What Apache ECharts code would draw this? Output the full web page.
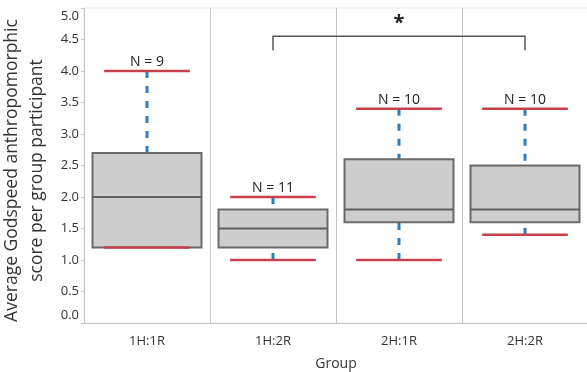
<!DOCTYPE html>
<html><head><meta charset="utf-8">
<script src="https://cdn.jsdelivr.net/npm/echarts@6/dist/echarts.min.js"></script>
<style>html,body{margin:0;padding:0;background:#fff}#c{width:587px;height:372px}</style>
</head><body><div id="c"></div>
<script>
const categories = ['1H:1R', '1H:2R', '2H:1R', '2H:2R'];
const whiskerLow = [1.2, 1.0, 1.0, 1.4];
const q1 = [1.2, 1.2, 1.6, 1.6];
const median = [2.0, 1.5, 1.8, 1.8];
const q3 = [2.7, 1.8, 2.6, 2.5];
const whiskerHigh = [4.0, 2.0, 3.4, 3.4];
const nCounts = [9, 11, 10, 10];
const yMin = 0, yMax = 5, yInterval = 0.5;
const sigFrom = '1H:2R', sigTo = '2H:2R', sigText = '*';
const sigLevel = 4.55, sigDrop = 4.33;

const FONT = 'Open Sans';
const boxData = categories.map((c, i) => [i, whiskerLow[i], q1[i], median[i], q3[i], whiskerHigh[i], nCounts[i]]);

function renderBox(params, api) {
  const x = api.value(0);
  const band = api.size([1, 0])[0];
  const bw = band * 0.865, cw = band * 0.68;
  const cx = api.coord([x, 0])[0];
  const y = k => api.coord([x, api.value(k)])[1];
  const yLo = y(1), yQ1 = y(2), yMed = y(3), yQ3 = y(4), yHi = y(5);
  const dash = { stroke: '#2a7fc1', lineWidth: 3, lineDash: [7, 8] };
  const red = { stroke: '#c8404c', lineWidth: 2.5 };
  const ch = [];
  if (yHi < yQ3) ch.push({ type: 'line', shape: { x1: cx, y1: yHi, x2: cx, y2: yQ3 }, style: dash });
  if (yLo > yQ1) ch.push({ type: 'line', shape: { x1: cx, y1: yLo, x2: cx, y2: yQ1 }, style: dash });
  ch.push({ type: 'rect', shape: { x: cx - bw / 2, y: yQ3, width: bw, height: yQ1 - yQ3 }, style: { fill: '#cdcdcd', stroke: '#6a6a6a', lineWidth: 2 } });
  ch.push({ type: 'line', shape: { x1: cx - bw / 2, y1: yMed, x2: cx + bw / 2, y2: yMed }, style: { stroke: '#606060', lineWidth: 2 } });
  ch.push({ type: 'line', shape: { x1: cx - cw / 2, y1: yHi, x2: cx + cw / 2, y2: yHi }, style: red });
  ch.push({ type: 'line', shape: { x1: cx - cw / 2, y1: yLo, x2: cx + cw / 2, y2: yLo }, style: red });
  ch.push({ type: 'text', x: cx, y: yHi - 2, style: { text: 'N = ' + api.value(6), fill: '#222', font: '14px "' + FONT + '"', textAlign: 'center', textVerticalAlign: 'bottom' } });
  return { type: 'group', children: ch };
}

function renderSig(params, api) {
  const a = api.coord([api.value(0), sigLevel]);
  const b = api.coord([api.value(1), sigLevel]);
  const d = api.coord([api.value(0), sigDrop])[1];
  return { type: 'group', children: [
    { type: 'polyline', shape: { points: [[a[0], d], [a[0], a[1]], [b[0], b[1]], [b[0], d]] }, style: { stroke: '#555', lineWidth: 1.5, fill: null } },
    { type: 'text', x: (a[0] + b[0]) / 2, y: a[1] - 3, style: { text: sigText, fill: '#222', font: 'bold 20px "' + FONT + '"', textAlign: 'center', textVerticalAlign: 'bottom' } }
  ] };
}

const chart = echarts.init(document.getElementById('c'), null, { renderer: 'canvas' });
chart.setOption({
  animation: false,
  grid: { left: 84, top: 8, width: 504, height: 315, show: true, borderColor: '#ececec', borderWidth: 1, containLabel: false, outerBoundsMode: 'none' },
  xAxis: {
    type: 'category', data: categories, name: 'Group', nameLocation: 'middle', nameGap: 34,
    nameTextStyle: { fontFamily: FONT, fontSize: 14, color: '#333' },
    axisLine: { lineStyle: { color: '#c4c4c4', width: 1 } },
    axisTick: { alignWithLabel: true, length: 4, lineStyle: { color: '#c4c4c4' } },
    axisLabel: { fontFamily: FONT, fontSize: 13, color: '#333', margin: 12 },
    splitLine: { show: true, lineStyle: { color: '#c4c4c4', width: 1 } }
  },
  yAxis: {
    type: 'value', min: yMin, max: yMax, interval: yInterval,
    name: 'Average Godspeed anthropomorphic\nscore per group participant', nameLocation: 'middle', nameGap: 29,
    nameTextStyle: { fontFamily: FONT, fontSize: 17.5, color: '#333', lineHeight: 25, padding: [0, 10, 0, 0] },
    axisLine: { show: true, lineStyle: { color: '#c4c4c4' } },
    axisTick: { show: true, length: 3, lineStyle: { color: '#c4c4c4' } },
    splitLine: { show: false },
    axisLabel: {
      fontFamily: FONT, fontSize: 13, color: '#333', margin: 5,
      formatter: v => v === yMax ? '{top|' + v.toFixed(1) + '}' : v === yMin ? '{bot|' + v.toFixed(1) + '}' : v.toFixed(1),
      rich: { top: { fontFamily: FONT, fontSize: 13, color: '#333', padding: [16, 0, 0, 0] }, bot: { fontFamily: FONT, fontSize: 13, color: '#333', padding: [0, 0, 16, 0] } }
    }
  },
  series: [
    { type: 'custom', renderItem: renderBox, data: boxData, encode: { x: 0, y: [1, 5] }, z: 3 },
    { type: 'custom', renderItem: renderSig, data: [[categories.indexOf(sigFrom), categories.indexOf(sigTo)]], encode: { x: [0, 1] }, z: 4 }
  ]
});
</script></body></html>
